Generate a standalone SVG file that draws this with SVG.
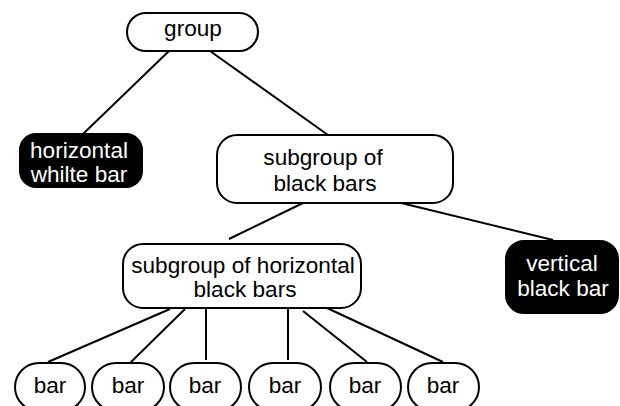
<svg xmlns="http://www.w3.org/2000/svg" width="620" height="406" viewBox="0 0 620 406">
<style>
.n{fill:#fff;stroke:#000;stroke-width:2}
.b{fill:#000;stroke:#000;stroke-width:2}
.t{font-family:"Liberation Sans",Arial,sans-serif;font-size:22.6px;text-anchor:middle;fill:#000}
.w{fill:#fff}
#edges line{stroke:#000;stroke-width:2}
</style>
<rect width="620" height="406" fill="#fff"/>
<g id="edges">
<line x1="169" y1="51" x2="83" y2="134"/>
<line x1="210" y1="51" x2="328" y2="135"/>
<line x1="305" y1="202" x2="229" y2="239"/>
<line x1="393" y1="201" x2="553" y2="240"/>
<line x1="170" y1="309" x2="48" y2="362"/>
<line x1="185" y1="309" x2="131" y2="362"/>
<line x1="206" y1="309" x2="206" y2="360"/>
<line x1="288" y1="309" x2="288" y2="360"/>
<line x1="303" y1="311" x2="367" y2="362"/>
<line x1="327" y1="308" x2="443" y2="362"/>
</g>
<g id="group">
<rect class="n" x="127" y="13" width="131" height="38" rx="19"/>
<text class="t" x="193" y="36">group</text>
</g>
<g id="horizontal-white-bar">
<rect class="b" x="20" y="134" width="122" height="53" rx="16"/>
<text class="t w" x="79" y="158">horizontal</text>
<text class="t w" x="79" y="182">whilte bar</text>
</g>
<g id="subgroup-black-bars">
<rect class="n" x="217" y="135" width="236" height="68" rx="20"/>
<text class="t" x="323" y="165">subgroup of</text>
<text class="t" x="325" y="191">black bars</text>
</g>
<g id="subgroup-horizontal-black-bars">
<rect class="n" x="123" y="244" width="238" height="64" rx="20"/>
<text class="t" x="243" y="273">subgroup of horizontal</text>
<text class="t" x="245" y="297">black bars</text>
</g>
<g id="vertical-black-bar">
<rect class="b" x="506" y="241" width="112" height="72" rx="18"/>
<text class="t w" x="562" y="271">vertical</text>
<text class="t w" x="563" y="296">black bar</text>
</g>
<g id="bar1"><rect class="n" x="15" y="363" width="70" height="48" rx="24"/><text class="t" x="50" y="393">bar</text></g>
<g id="bar2"><rect class="n" x="92" y="363" width="72" height="48" rx="24"/><text class="t" x="128" y="393">bar</text></g>
<g id="bar3"><rect class="n" x="170" y="363" width="71" height="48" rx="24"/><text class="t" x="205" y="393">bar</text></g>
<g id="bar4"><rect class="n" x="249" y="363" width="72" height="48" rx="24"/><text class="t" x="285" y="393">bar</text></g>
<g id="bar5"><rect class="n" x="330" y="363" width="71" height="48" rx="24"/><text class="t" x="365" y="393">bar</text></g>
<g id="bar6"><rect class="n" x="408" y="363" width="71" height="48" rx="24"/><text class="t" x="443" y="393">bar</text></g>
</svg>
